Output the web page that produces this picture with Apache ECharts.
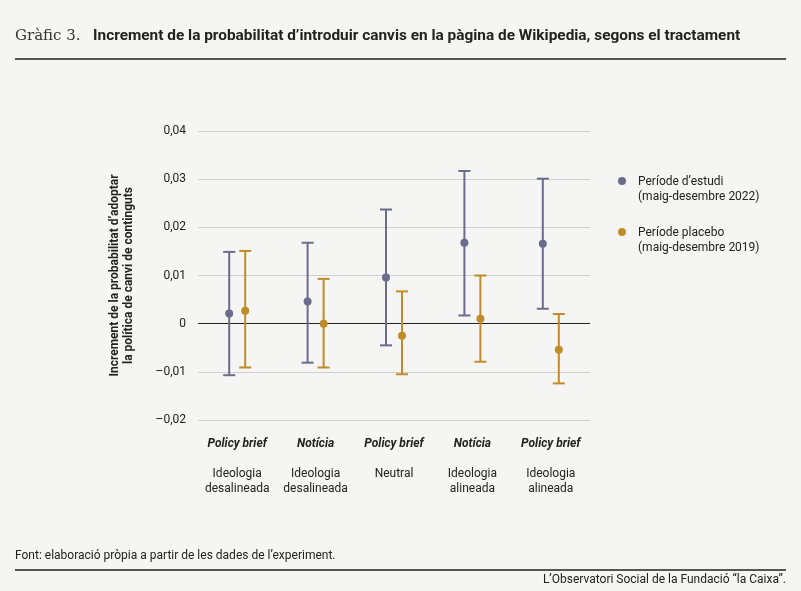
<!DOCTYPE html>
<html><head><meta charset="utf-8">
<script src="https://cdn.jsdelivr.net/npm/echarts@6/dist/echarts.min.js"></script>
<style>html,body{margin:0;background:#f5f5f3}#c{width:801px;height:591px}</style>
</head><body><div id="c"></div>
<script>
var categories = ['Policy brief|Ideologia\ndesalineada','Notícia|Ideologia\ndesalineada','Policy brief|Neutral','Notícia|Ideologia\nalineada','Policy brief|Ideologia\nalineada'];
var estudiMid = [0.0021, 0.0046, 0.0096, 0.0168, 0.0166];
var estudiLow = [-0.0107, -0.0081, -0.0045, 0.0017, 0.0031];
var estudiHigh = [0.0149, 0.0168, 0.0237, 0.0317, 0.0301];
var placeboMid = [0.0027, 0.0000, -0.0025, 0.0010, -0.0054];
var placeboLow = [-0.0091, -0.0091, -0.0105, -0.0079, -0.0124];
var placeboHigh = [0.0151, 0.0093, 0.0067, 0.0100, 0.0020];
var purple = '#6c6b8c', gold = '#c08b2b';

var chart = echarts.init(document.getElementById('c'));
function errSeries(name, mid, low, high, color, off){
  return {
    type:'custom', name:name, z:5,
    data: mid.map(function(v,i){return [i, v, low[i], high[i]];}),
    renderItem:function(params, api){
      var x = api.coord([api.value(0), 0])[0] + off;
      var yM = api.coord([0, api.value(1)])[1];
      var yL = api.coord([0, api.value(2)])[1];
      var yH = api.coord([0, api.value(3)])[1];
      var st = {stroke:color, lineWidth:2};
      return {type:'group', children:[
        {type:'line', shape:{x1:x,y1:yL,x2:x,y2:yH}, style:st},
        {type:'line', shape:{x1:x-6,y1:yL,x2:x+6,y2:yL}, style:st},
        {type:'line', shape:{x1:x-6,y1:yH,x2:x+6,y2:yH}, style:st},
        {type:'circle', shape:{cx:x,cy:yM,r:4}, style:{fill:color}}
      ]};
    }
  };
}
var txt = '#222';
chart.setOption({
  backgroundColor:'#f5f5f3',
  textStyle:{fontFamily:'Roboto'},
  grid:{left:198, right:211, top:131, bottom:171},
  xAxis:{type:'category', data:categories,
    axisLine:{show:false}, axisTick:{show:false},
    axisLabel:{interval:0, margin:16, color:txt, lineHeight:15,
      formatter:function(v){var p=v.split('|');return '{a|'+p[0]+'}\n\n{b|'+p[1].replace('\n','}\n{b|')+'}';},
      rich:{a:{fontWeight:'bold',fontStyle:'italic',fontSize:12,color:txt,lineHeight:15},
            b:{fontSize:12,color:txt,lineHeight:15}}}},
  yAxis:{type:'value', min:-0.02, max:0.04, interval:0.01,
    name:'Increment de la probabilitat d\u2019adoptar\nla política de canvi de continguts',
    nameLocation:'middle', nameGap:62, nameRotate:90,
    nameTextStyle:{fontWeight:'bold', fontSize:12, color:txt, lineHeight:14},
    axisLabel:{color:txt, fontSize:12, margin:12, formatter:function(v){return (Math.round(v*100)/100).toFixed(2).replace('.',',').replace('-','\u2013').replace(/^0,00$/,'0');}},
    splitLine:{lineStyle:{color:'#cfcfcf'}}},
  series:[
    errSeries('Període d\u2019estudi', estudiMid, estudiLow, estudiHigh, purple, -8),
    errSeries('Període placebo', placeboMid, placeboLow, placeboHigh, gold, 8),
    {type:'line', data:[], markLine:{silent:true, symbol:'none', label:{show:false},
      lineStyle:{color:'#222', type:'solid', width:1}, data:[{yAxis:0}]}}
  ],
  graphic:[
    {type:'text', left:15, top:29, style:{text:'Gràfic 3.', font:'15px "DejaVu Serif"', fill:'#333'}},
    {type:'text', left:93, top:29, style:{text:'Increment de la probabilitat d\u2019introduir canvis en la pàgina de Wikipedia, segons el tractament', font:'bold 15.4px Roboto', fill:'#222'}},
    {type:'rect', shape:{x:15,y:58,width:771,height:2}, style:{fill:'#555'}},
    {type:'circle', shape:{cx:622,cy:181,r:4}, style:{fill:purple}},
    {type:'text', left:638, top:174, style:{text:'Període d\u2019estudi\n(maig-desembre 2022)', font:'12px Roboto', fill:txt, lineHeight:15}},
    {type:'circle', shape:{cx:622,cy:232,r:4}, style:{fill:gold}},
    {type:'text', left:638, top:225, style:{text:'Període placebo\n(maig-desembre 2019)', font:'12px Roboto', fill:txt, lineHeight:15}},
    {type:'text', left:15, top:550, style:{text:'Font: elaboració pròpia a partir de les dades de l\u2019experiment.', font:'12px Roboto', fill:txt}},
    {type:'rect', shape:{x:15,y:569,width:771,height:2}, style:{fill:'#555'}},
    {type:'text', right:15, top:574, style:{text:'L\u2019Observatori Social de la Fundació \u201cla Caixa\u201d.', font:'12px Roboto', fill:txt}}
  ]
});
</script></body></html>
